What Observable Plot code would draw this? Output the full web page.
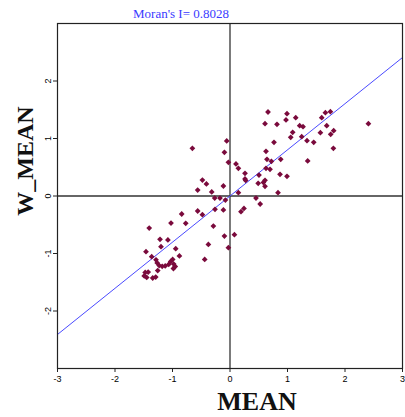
<!DOCTYPE html>
<html>
<head>
<meta charset="utf-8">
<script src="https://cdn.jsdelivr.net/npm/d3@7"></script>
<script src="https://cdn.jsdelivr.net/npm/@observablehq/plot@0.6"></script>
<style>
  html, body { margin: 0; padding: 0; background: #fff; }
</style>
</head>
<body>
<div id="chart"></div>
<script>
// Standardized values (MEAN) and their spatial lag (W_MEAN)
const meanValues = [
  0.661, 0.609, 0.817, 0.991, 0.974, 1.143, 1.212, 1.270, 1.090, 1.056,
  1.247, 1.339, 1.456, 0.765, 0.626, 0.643, 0.720, 0.882, 1.351, 1.595,
  1.659, 1.746, 1.682, 1.751, 1.803, 1.798, 1.572, 2.407, 0.104, 0.146,
  -0.028, -0.057, -0.097, 0.626, 0.696, 0.504, 0.870, 0.991, 0.261, 0.261,
  0.273, 0.609, 0.581, 0.490, 0.609, 0.146, 0.835, 0.452, 0.525, 0.243,
  0.191, -0.654, -0.480, -0.410, -0.562, -0.318, -0.115, -0.266, -0.174, -0.080,
  -0.261, -0.115, -0.562, -0.480, -0.289, -0.097, 0.077, -0.376, -0.028, -0.840,
  -0.770, -1.026, -1.405, -1.217, -1.080, -1.200, -0.944, -0.880, -1.461, -1.362,
  -0.440, -1.287, -1.266, -1.231, -1.179, -1.127, -1.066, -1.031, -0.997, -0.979,
  -0.953, -0.984, -1.475, -1.423, -1.492, -1.449, -1.344, -1.292, -1.257
];
const wMeanValues = [
  1.461, 1.257, 1.247, 1.431, 1.322, 1.362, 1.223, 1.205, 1.108, 1.021,
  1.031, 0.962, 0.934, 0.934, 0.777, 0.638, 0.603, 0.638, 0.609, 1.362,
  1.449, 1.466, 1.223, 1.073, 1.136, 0.830, 1.101, 1.257, 0.557, 0.482,
  0.586, 0.957, 0.760, 0.482, 0.464, 0.365, 0.377, 0.343, 0.395, 0.296,
  0.270, 0.273, 0.235, 0.221, 0.169, 0.057, 0.057, -0.035, -0.139, -0.217,
  -0.273, 0.830, 0.278, 0.209, 0.104, 0.070, 0.174, -0.035, -0.035, -0.070,
  -0.231, -0.243, -0.261, -0.325, -0.522, -0.696, -0.673, -0.843, -0.899, -0.313,
  -0.475, -0.470, -0.557, -0.753, -0.765, -0.882, -0.917, -1.043, -0.969, -1.056,
  -1.104, -1.110, -1.165, -1.209, -1.223, -1.217, -1.191, -1.139, -1.104, -1.183,
  -1.226, -1.261, -1.330, -1.322, -1.391, -1.417, -1.426, -1.409, -1.296
];
const moransI = 0.8028;
const axisDomain = [-3, 3];
const xTicks = [-3, -2, -1, 0, 1, 2, 3];
const yTicks = [-2, -1, 0, 1, 2];
const titleText = "Moran's I= " + moransI.toFixed(4);
const xLabel = "MEAN";
const yLabel = "W_MEAN";

const points = meanValues.map((x, i) => ({x, y: wMeanValues[i]}));
const fitLine = axisDomain.map(x => ({x, y: moransI * x}));

const serif = "'Liberation Serif', 'DejaVu Serif', serif";
const sans = "'Liberation Sans', Arial, sans-serif";

const chart = Plot.plot({
  width: 405,
  height: 417,
  marginLeft: 57,
  marginRight: 3,
  marginTop: 23,
  marginBottom: 49,
  style: {background: "#fff", fontFamily: sans},
  x: {domain: axisDomain},
  y: {domain: axisDomain},
  marks: [
    Plot.ruleX([0], {stroke: "#333", strokeWidth: 1.3}),
    Plot.ruleY([0], {stroke: "#333", strokeWidth: 1.3}),
    Plot.line(fitLine, {x: "x", y: "y", stroke: "#4a4aff", strokeWidth: 1}),
    Plot.dot(points, {x: "x", y: "y", symbol: "diamond2", r: 2.6, fill: "#7a0a3c", stroke: "none"}),
    Plot.frame({stroke: "#222", strokeWidth: 1.2}),
    Plot.axisX({ticks: xTicks, tickSize: 4, tickPadding: 3, fontSize: 9, tickFormat: d => String(d), label: null, stroke: "#222"}),
    Plot.axisY({ticks: yTicks, tickSize: 4, tickPadding: 3, fontSize: 9, tickRotate: -90, tickFormat: d => String(d), label: null, stroke: "#222"}),
    Plot.text([titleText], {frameAnchor: "top", dx: -49, dy: -10, fill: "#3a3aff", fontSize: 13, fontFamily: serif, lineAnchor: "middle"}),
    Plot.text([xLabel], {frameAnchor: "bottom", dx: 27, dy: 33, fill: "#111", fontSize: 26, fontWeight: "bold", fontFamily: serif, lineAnchor: "middle"}),
    Plot.text([yLabel], {frameAnchor: "left", textAnchor: "middle", dx: -32, dy: -35, rotate: -90, fill: "#111", fontSize: 24, fontWeight: "bold", fontFamily: serif, lineAnchor: "middle"})
  ]
});
document.getElementById("chart").appendChild(chart);
</script>
</body>
</html>
